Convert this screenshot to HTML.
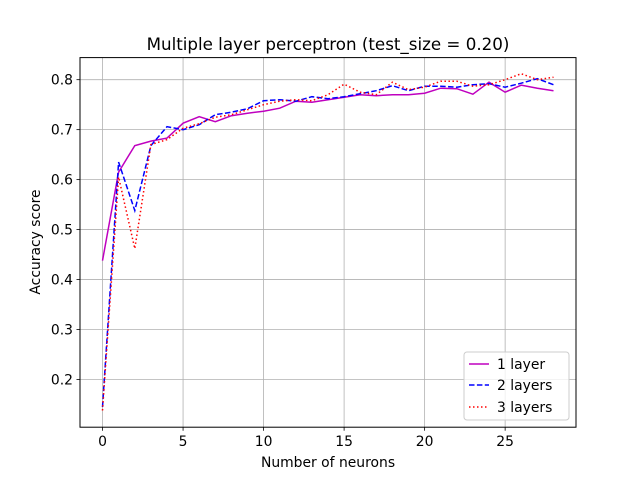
<!DOCTYPE html>
<html><head><meta charset="utf-8"><style>
body{margin:0;background:#fff}
svg{display:block;font-family:"DejaVu Sans","Liberation Sans",sans-serif}
</style></head><body>
<svg id="chart" width="640" height="480">
<rect width="640" height="480" fill="#fff"/>
<g id="grid"></g>
<g id="series"></g>
<rect x="80" y="57.6" width="496" height="369.6" fill="none" stroke="#000" stroke-width="1"/>
<g id="ticks"></g>
<text x="328" y="50" text-anchor="middle" font-size="16.7">Multiple layer perceptron (test_size = 0.20)</text>
<text x="328" y="467" text-anchor="middle" font-size="13.9">Number of neurons</text>
<text transform="translate(40,242) rotate(-90)" text-anchor="middle" font-size="13.9">Accuracy score</text>
<g>
<rect x="464" y="352" width="105" height="68" rx="3" fill="#fff" fill-opacity="0.8" stroke="#ccc"/>
<g><line x1="469" y1="364" x2="489" y2="364" stroke="#bf00bf" stroke-width="1.5"/><text x="497" y="369" font-size="13.9">1 layer</text></g>
<g><line x1="469" y1="385" x2="489" y2="385" stroke="#0000ff" stroke-width="1.5" stroke-dasharray="5.5,2.4"/><text x="497" y="390" font-size="13.9">2 layers</text></g>
<g><line x1="469" y1="407" x2="489" y2="407" stroke="#ff0000" stroke-width="1.5" stroke-dasharray="1.5,2.5"/><text x="497" y="412" font-size="13.9">3 layers</text></g>
</g>
</svg>
<script>
const layer1=[0.438,0.615,0.668,0.677,0.683,0.713,0.726,0.716,0.728,0.733,0.737,0.743,0.757,0.755,0.760,0.765,0.770,0.768,0.770,0.770,0.773,0.783,0.782,0.771,0.795,0.775,0.789,0.783,0.778];
const layer2=[0.145,0.635,0.538,0.668,0.706,0.700,0.710,0.730,0.735,0.742,0.758,0.760,0.757,0.766,0.762,0.766,0.772,0.778,0.788,0.778,0.787,0.787,0.785,0.790,0.792,0.785,0.793,0.802,0.790];
const layer3=[0.138,0.605,0.462,0.670,0.680,0.703,0.712,0.725,0.730,0.740,0.750,0.757,0.760,0.758,0.770,0.791,0.775,0.770,0.795,0.780,0.785,0.797,0.797,0.787,0.790,0.800,0.812,0.800,0.805];
const xTicks=[0,5,10,15,20,25];
const yTicks=[0.2,0.3,0.4,0.5,0.6,0.7,0.8];
const NS='http://www.w3.org/2000/svg';
const L=80,R=576,T=57.6,B=427.2;
const xmin=-1.4,xmax=29.4,ymin=0.1045,ymax=0.8442;
function sx(v){return L+(v-xmin)/(xmax-xmin)*(R-L);}
function sy(v){return B-(v-ymin)/(ymax-ymin)*(B-T);}
function mk(tag,attrs,parent){const e=document.createElementNS(NS,tag);for(const k in attrs)e.setAttribute(k,attrs[k]);parent.appendChild(e);return e;}
const grid=document.getElementById('grid'),ticks=document.getElementById('ticks'),ser=document.getElementById('series');
xTicks.forEach(t=>{const x=sx(t);
 const g=mk('line',{x1:x,x2:x,y1:T,y2:B,stroke:'#b0b0b0','stroke-width':0.8},grid);
 
 
 mk('line',{x1:x,x2:x,y1:B,y2:B+3.5,stroke:'#000','stroke-width':0.8},ticks);
 const tx=mk('text',{x:x,y:B+19,'text-anchor':'middle','font-size':13.9},ticks);tx.textContent=t;
 
 
});
yTicks.forEach(t=>{const y=sy(t);
 const g=mk('line',{x1:L,x2:R,y1:y,y2:y,stroke:'#b0b0b0','stroke-width':0.8},grid);
 
 
 mk('line',{x1:L-3.5,x2:L,y1:y,y2:y,stroke:'#000','stroke-width':0.8},ticks);
 const tx=mk('text',{x:L-7,y:y+5,'text-anchor':'end','font-size':13.9},ticks);tx.textContent=t.toFixed(1);
 
 
});
function line(data,color,dash,name){
 const pts=data.map((v,i)=>sx(i).toFixed(1)+','+sy(v).toFixed(1)).join(' ');
 const p=mk('polyline',{points:pts,fill:'none',stroke:color,'stroke-width':1.5},ser);
 if(dash)p.setAttribute('stroke-dasharray',dash);
 
 
}
line(layer1,'#bf00bf',null,'series-1-layer');
line(layer2,'#0000ff','5.5,2.4','series-2-layers');
line(layer3,'#ff0000','1.5,2.5','series-3-layers');
</script>
</body></html>
